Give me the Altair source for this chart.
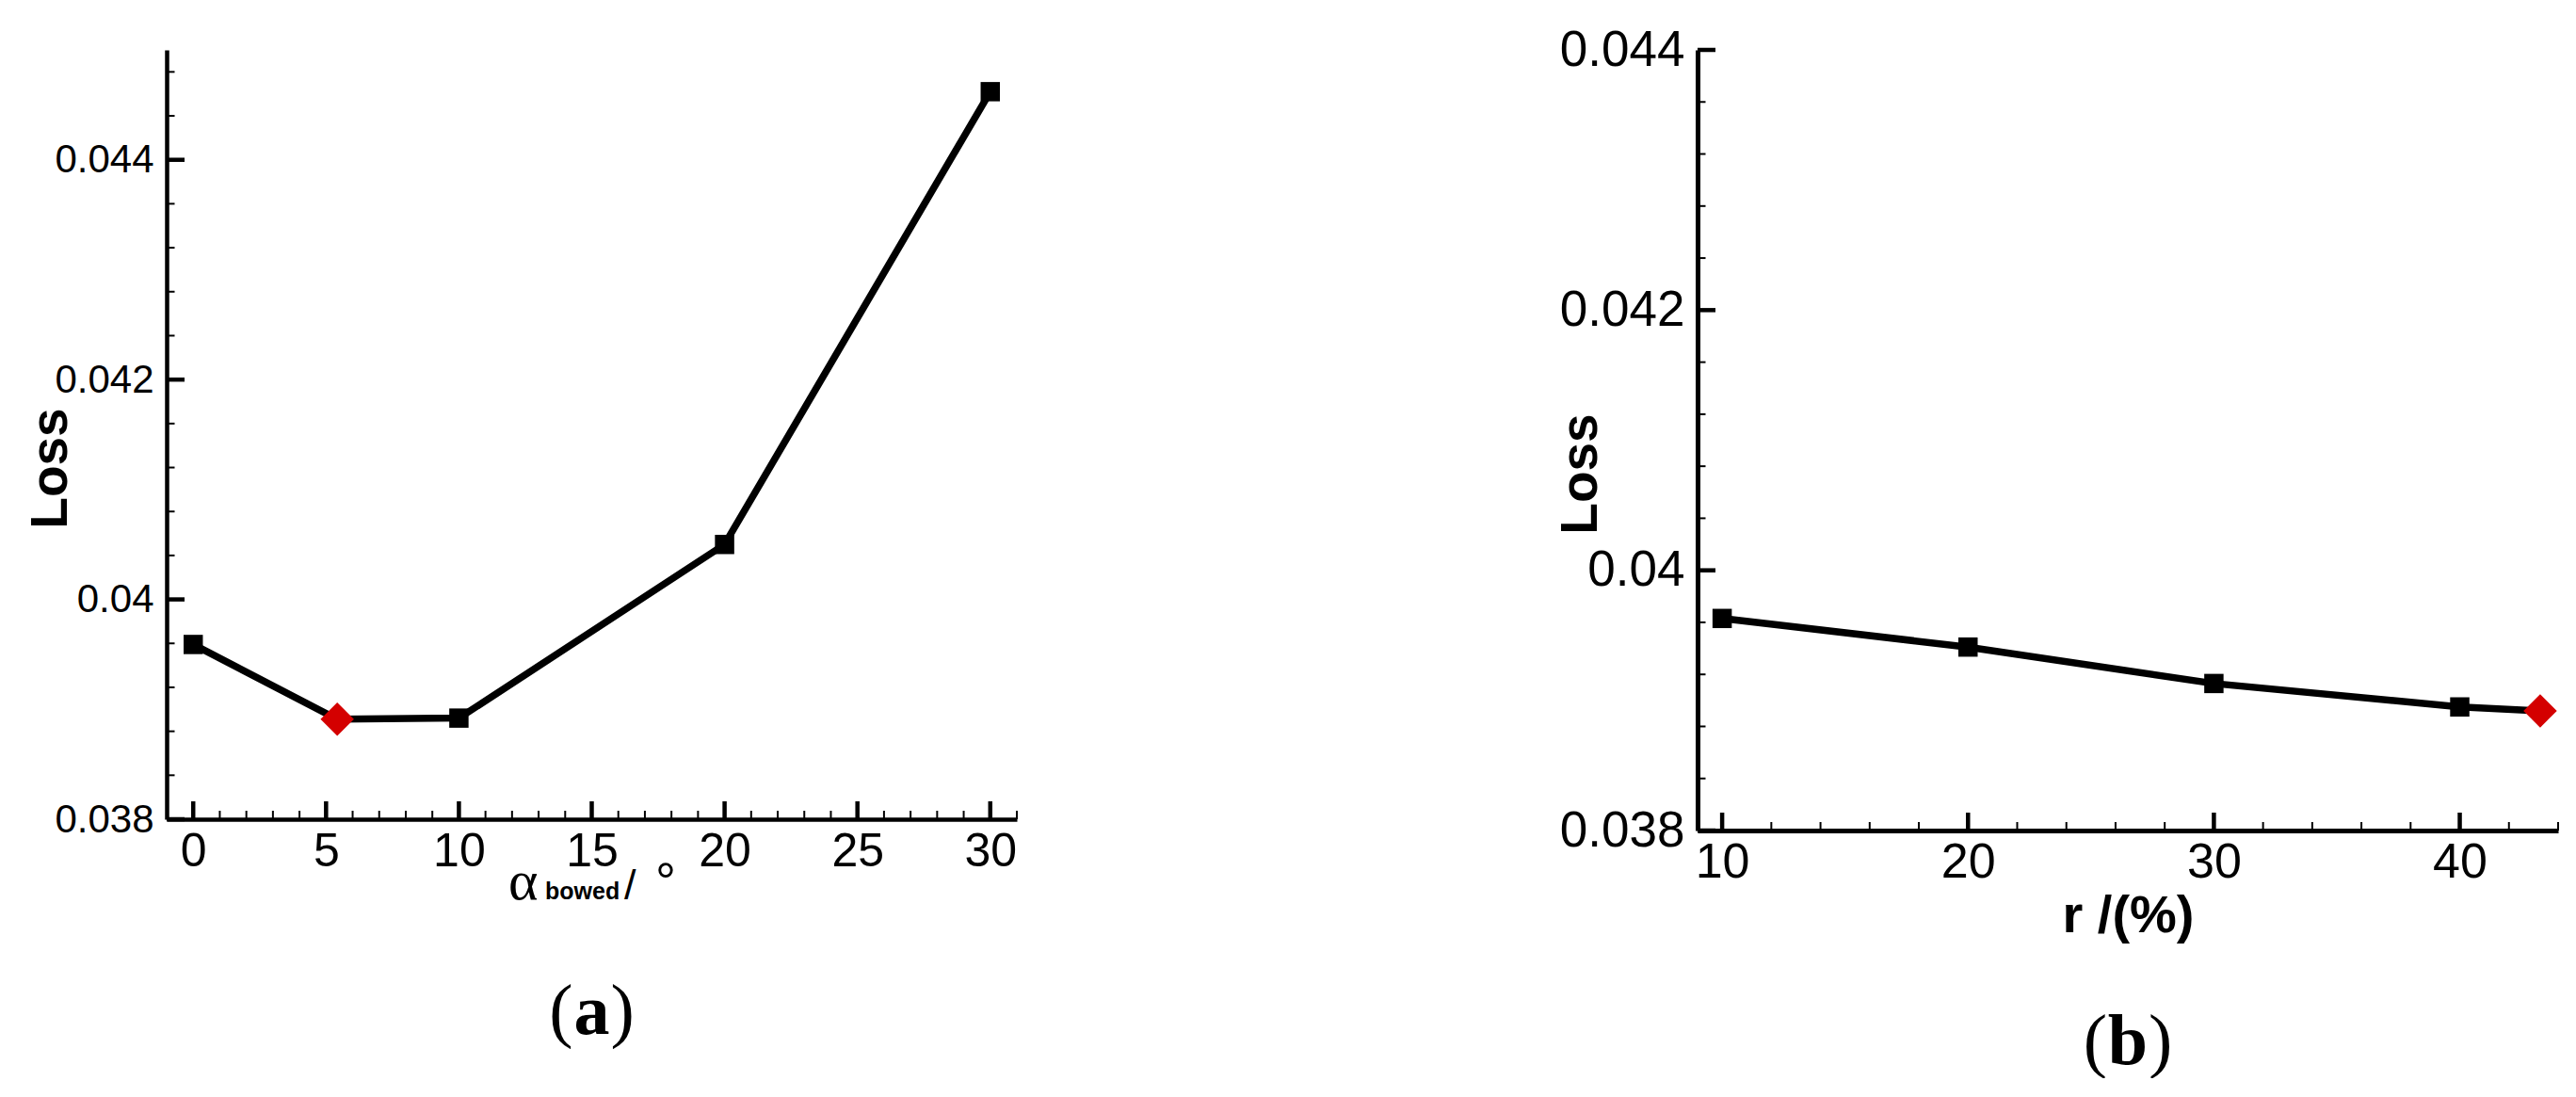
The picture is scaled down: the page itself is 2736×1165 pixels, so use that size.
import altair as alt
import pandas as pd

# ---------------- data ----------------
# panel (a)
a_angle = [0, 10, 20, 30]
a_loss = [0.03959, 0.03892, 0.0405, 0.04462]
a_opt_angle = [5.42]
a_opt_loss = [0.03891]
a_xmajor = [0, 5, 10, 15, 20, 25, 30]
a_xminor = [1, 2, 3, 4, 6, 7, 8, 9, 11, 12, 13, 14, 16, 17, 18, 19,
            21, 22, 23, 24, 26, 27, 28, 29, 31]
a_ymajor = [0.038, 0.040, 0.042, 0.044]
a_yminor = [0.0384, 0.0388, 0.0392, 0.0396, 0.0404, 0.0408, 0.0412, 0.0416,
            0.0424, 0.0428, 0.0432, 0.0436, 0.0444, 0.0448]

# panel (b)
b_r = [10, 20, 30, 40]
b_loss = [0.03963, 0.03941, 0.03913, 0.03895]
b_opt_r = [43.27]
b_opt_loss = [0.03892]
b_xmajor = [10, 20, 30, 40]
b_xminor = [12, 14, 16, 18, 22, 24, 26, 28, 32, 34, 36, 38, 42, 44]
b_ymajor = [0.038, 0.040, 0.042, 0.044]
b_yminor = [0.0384, 0.0388, 0.0392, 0.0396, 0.0404, 0.0408, 0.0412, 0.0416,
            0.0424, 0.0428, 0.0432, 0.0436]

SANS = "Liberation Sans"
SERIF = "Liberation Serif"
RED = "#d40000"


def text_layer(txt, x, y, font, size, weight="normal", align="left"):
    return alt.Chart(pd.DataFrame({"t": [txt]})).mark_text(
        font=font, fontSize=size, fontWeight=weight, align=align,
        baseline="alphabetic", color="black"
    ).encode(text="t:N", x=alt.value(x), y=alt.value(y))


def panel(xs, ys, ox, oy, xdom, ydom, xmaj, xmin, ymaj, ymin, W, H,
          xlab_size, ylab_size, xlab_pad, ylab_pad, dom_w, loss_x, loss_y,
          xtitle, texts):
    xscale = alt.Scale(domain=xdom, nice=False, zero=False)
    yscale = alt.Scale(domain=ydom, nice=False, zero=False)

    pts = pd.DataFrame({"x": xs + ox, "y": ys + oy,
                        "kind": ["base"] * len(xs) + ["opt"] * len(ox)})
    pts = pts.sort_values("x").reset_index(drop=True)

    xaxis_kw = dict(values=xmaj, labelFont=SANS, labelFontSize=xlab_size,
                    labelColor="black", labelPadding=xlab_pad, ticks=False,
                    grid=False, domainColor="black", domainWidth=dom_w,
                    labelFlush=False, labelOverlap=False, format="d")
    if xtitle:
        xaxis_kw.update(title=xtitle, titleFont=SANS, titleFontSize=56,
                        titleFontWeight="bold", titleColor="black",
                        titleX=W / 2, titleY=107, titleAlign="center",
                        titleBaseline="alphabetic")
        xaxis = alt.Axis(**xaxis_kw)
    else:
        xaxis = alt.Axis(title=None, **xaxis_kw)

    yaxis = alt.Axis(values=ymaj, format=".3~f", labelFont=SANS,
                     labelFontSize=ylab_size, labelColor="black",
                     labelPadding=ylab_pad, ticks=False, grid=False,
                     domainColor="black", domainWidth=dom_w, labelFlush=False,
                     labelOverlap=False, title="Loss", titleFont=SANS,
                     titleFontSize=55, titleFontWeight="bold",
                     titleColor="black", titleAngle=270, titleX=loss_x,
                     titleY=loss_y, titleAlign="center",
                     titleBaseline="alphabetic")

    line = alt.Chart(pts).mark_line(color="black", strokeWidth=7.5).encode(
        x=alt.X("x:Q", scale=xscale, axis=xaxis),
        y=alt.Y("y:Q", scale=yscale, axis=yaxis),
        order="x:Q",
    )
    squares = alt.Chart(pts[pts.kind == "base"]).mark_point(
        shape="square", filled=True, size=420, color="black", opacity=1,
        strokeWidth=0
    ).encode(x=alt.X("x:Q", scale=xscale),
             y=alt.Y("y:Q", scale=yscale))
    diamond = alt.Chart(pts[pts.kind == "opt"]).mark_point(
        shape="diamond", filled=True, size=1260, color=RED, opacity=1,
        strokeWidth=0
    ).encode(x=alt.X("x:Q", scale=xscale),
             y=alt.Y("y:Q", scale=yscale))

    def xticks(vals, length, width):
        return alt.Chart(pd.DataFrame({"x": vals})).mark_rule(
            color="black", strokeWidth=width
        ).encode(x=alt.X("x:Q", scale=xscale),
                 y=alt.value(H), y2=alt.value(H - length))

    def yticks(vals, length, width):
        return alt.Chart(pd.DataFrame({"y": vals})).mark_rule(
            color="black", strokeWidth=width
        ).encode(y=alt.Y("y:Q", scale=yscale),
                 x=alt.value(0), x2=alt.value(length))

    layers = [line, xticks(xmaj, 19, 4.5), xticks(xmin, 9, 2),
              yticks(ymaj, 19, 4.5), yticks(ymin, 8.5, 2),
              squares, diamond] + texts
    return alt.layer(*layers).properties(width=W, height=H)


Wa, Ha = 903, 817
Wb, Hb = 914, 829

texts_a = [
    text_layer("\u03b1", 363, 902, SERIF, 60),
    text_layer("bowed", 402, 902, SANS, 25, weight="bold"),
    text_layer("/", 486, 902, SANS, 45),
    text_layer("\u00b0", 530, 902, SANS, 55, align="center"),
    text_layer("(", Wa / 2 - 20, 1045, SERIF, 76, align="right"),
    text_layer("a", Wa / 2, 1045, SERIF, 76, weight="bold", align="center"),
    text_layer(")", Wa / 2 + 20, 1045, SERIF, 76, align="left"),
]
texts_b = [
    text_layer("(", Wb / 2 - 22, 1077, SERIF, 76, align="right"),
    text_layer("b", Wb / 2, 1077, SERIF, 76, weight="bold", align="center"),
    text_layer(")", Wb / 2 + 22, 1077, SERIF, 76, align="left"),
]

pa = panel(a_angle, a_loss, a_opt_angle, a_opt_loss, [-1, 31], [0.038, 0.045],
           a_xmajor, a_xminor, a_ymajor, a_yminor, Wa, Ha,
           50, 42, 9, 14, 4.5, -107, 444, None, texts_a)
pb = panel(b_r, b_loss, b_opt_r, b_opt_loss, [9, 44], [0.038, 0.044],
           b_xmajor, b_xminor, b_ymajor, b_yminor, Wb, Hb,
           52, 53, 8, 14, 5, -108, 450, "r /(%)", texts_b)

chart = alt.hconcat(pa, pb, spacing=570).properties(
    padding={"left": 18, "top": 19, "right": 0, "bottom": 0}
).configure(background="white").configure_view(strokeWidth=0)

chart.save("out.html", embed_options={"renderer": "svg", "actions": False})
